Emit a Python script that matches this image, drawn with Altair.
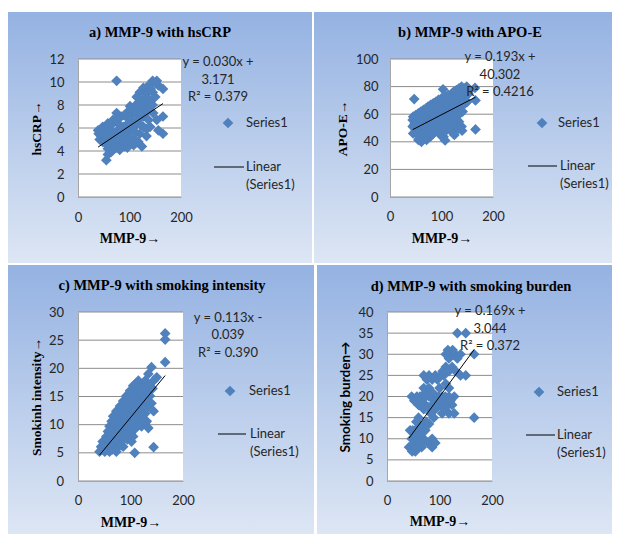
import altair as alt
import pandas as pd

# ---------------- data ----------------
X_TICKS = [0, 100, 200]

# a) MMP-9 vs hsCRP
A_X = [75, 145, 153, 137, 156, 165, 127, 120, 145, 114, 133, 150, 124, 140, 101, 110, 130, 117, 137,
       75, 94, 107, 146, 165, 84, 127, 68, 101, 153, 137, 58, 78, 114, 48, 88, 127, 140, 39, 65, 101,
       156, 40, 55, 81, 120, 165, 45, 71, 94, 133, 42, 61, 88, 110, 52, 78, 101, 124, 61, 91, 68, 81, 58, 55,
       150, 141, 132, 127, 119, 145, 123, 104, 113, 131, 90, 97, 119, 108, 73, 63, 95, 121, 52, 84, 107, 133,
       60, 75, 92, 112, 48, 65, 87, 101, 55, 73, 96, 117, 48, 66, 85, 108, 58, 75, 96, 64]
A_Y = [10.1, 10.1, 10.1, 9.7, 9.7, 9.4, 9.5, 9.1, 9.1, 8.7, 8.7, 8.7, 8.3, 8.3, 7.9, 7.9, 7.9, 7.6, 7.6,
       7.3, 7.3, 7.3, 7.3, 7.0, 7.0, 7.0, 6.7, 6.7, 6.7, 6.7, 6.4, 6.4, 6.4, 6.1, 6.1, 6.1, 6.1, 5.8, 5.8, 5.8,
       5.8, 5.5, 5.5, 5.5, 5.5, 5.5, 5.3, 5.3, 5.3, 5.3, 5.0, 5.0, 5.0, 5.0, 4.7, 4.7, 4.7, 4.4, 4.4, 4.4, 4.1, 4.1, 3.7, 3.2,
       9.9, 9.4, 9.0, 8.5, 8.3, 8.0, 7.7, 7.6, 7.2, 7.3, 7.1, 6.9, 6.8, 6.5, 6.6, 6.2, 6.3, 6.3, 5.9, 5.9, 6.0, 5.9,
       5.7, 5.7, 5.7, 5.6, 5.6, 5.4, 5.4, 5.2, 5.1, 5.0, 4.9, 4.8, 4.8, 4.6, 4.6, 4.5, 4.2, 4.3, 4.3, 3.9]
A_TICKS = [0, 2, 4, 6, 8, 10, 12]
A_COEF = [0.030, 3.171]
A_EQ = ["y = 0.030x +", "3.171", "R² = 0.379"]

# b) MMP-9 vs APO-E
B_X = [47, 103, 165, 166, 166, 107, 125, 140,
       139, 149, 129, 155, 120, 139, 152, 107, 129, 146, 94, 116, 136, 84, 103, 126, 146,
       74, 97, 116, 136, 65, 87, 107, 126, 55, 78, 97, 116, 136, 45, 68, 87, 107, 126,
       44, 58, 78, 97, 116, 48, 68, 87, 107, 129, 44, 61, 81, 100, 120, 139,
       52, 71, 91, 110, 129, 45, 65, 84, 123, 58, 78, 104, 55, 71, 61,
       134, 144, 124, 146, 113, 133, 150, 100, 120, 140, 89, 110, 131, 150, 79, 100, 121, 141,
       70, 92, 111, 131, 60, 82, 102, 121, 141, 50, 73, 92, 112, 131, 48, 63, 83, 102, 121,
       52, 73, 92, 112, 134, 47, 65, 84, 103, 125, 56, 76, 95, 115, 134, 49, 68, 87, 106,
       61, 81, 98, 57, 66]
B_Y = [71, 78, 79, 70, 49, 41, 45, 48,
       80, 80, 77.5, 77.5, 75, 75, 75, 72.7, 72.7, 72.7, 70.3, 70.3, 70.3, 67.9, 67.9, 67.9, 67.9,
       65.5, 65.5, 65.5, 65.5, 63.1, 63.1, 63.1, 63.1, 60.6, 60.6, 60.6, 60.6, 60.6, 58.2, 58.2, 58.2, 58.2, 58.2,
       55.8, 55.8, 55.8, 55.8, 55.8, 53.4, 53.4, 53.4, 53.4, 53.4, 51, 51, 51, 51, 51, 51,
       48.6, 48.6, 48.6, 48.6, 48.6, 46.1, 46.1, 46.1, 46.1, 43.7, 43.7, 43.7, 41.3, 41.3, 40,
       78.7, 78.7, 76.3, 76.3, 74, 74, 74, 71.5, 71.5, 71.5, 69, 69, 69, 69, 66.7, 66.7, 66.7, 66.7,
       64.3, 64.3, 64.3, 64.3, 61.9, 61.9, 61.9, 61.9, 61.9, 59.4, 59.4, 59.4, 59.4, 59.4, 57, 57, 57, 57, 57,
       54.6, 54.6, 54.6, 54.6, 54.6, 52.2, 52.2, 52.2, 52.2, 52.2, 49.8, 49.8, 49.8, 49.8, 49.8, 47.4, 47.4, 47.4, 47.4,
       44.9, 44.9, 44.9, 42.5, 42.5]
B_TICKS = [0, 20, 40, 60, 80, 100]
B_COEF = [0.193, 40.302]
B_EQ = ["y = 0.193x +", "40.302", "R² = 0.4216"]

# c) MMP-9 vs smoking intensity
C_X = [41, 51, 60, 73, 108, 44, 57, 70, 86, 144, 47, 60, 80, 102, 54, 67, 83, 105, 57, 70, 86, 99,
       60, 76, 92, 121, 128, 134, 64, 80, 96, 112, 131, 67, 83, 102, 118, 73, 89, 108, 124, 144,
       80, 96, 115, 134, 86, 102, 121, 92, 105, 124, 137, 99, 112, 128, 105, 121, 137, 115, 128, 144,
       166, 166, 166, 140, 150, 134,
       46, 55, 66, 72, 51, 63, 75, 82, 55, 70, 86, 94, 60, 74, 90, 101, 64, 80, 95, 108,
       68, 86, 101, 115, 72, 89, 106, 122, 78, 95, 112, 128, 84, 101, 118, 90, 108, 125, 140,
       96, 112, 130, 102, 118, 132, 109, 125, 142, 110, 133]
C_Y = [5.2, 5.2, 5.2, 5.2, 5.0, 6.1, 6.1, 6.1, 6.1, 6.0, 7.0, 7.0, 7.0, 7.0, 7.9, 7.9, 7.9, 7.9, 8.8, 8.8, 8.8, 8.8,
       9.7, 9.7, 9.7, 9.7, 10.3, 9.4, 10.6, 10.6, 10.6, 10.6, 10.6, 11.5, 11.5, 11.5, 11.5, 12.4, 12.4, 12.4, 12.4, 12.4,
       13.3, 13.3, 13.3, 13.3, 14.2, 14.2, 14.2, 15.1, 15.1, 15.1, 15.1, 16.0, 16.0, 16.0, 16.9, 16.9, 16.9, 17.8, 17.8, 17.8,
       26.2, 25.1, 21.1, 20.2, 18.4, 19.0,
       5.6, 5.6, 5.6, 5.6, 6.5, 6.5, 6.5, 6.5, 7.4, 7.4, 7.4, 7.4, 8.3, 8.3, 8.3, 8.3, 9.2, 9.2, 9.2, 9.2,
       10.1, 10.1, 10.1, 10.1, 11.0, 11.0, 11.0, 11.0, 12.0, 12.0, 12.0, 12.0, 12.9, 12.9, 12.9, 13.8, 13.8, 13.8, 13.8,
       14.7, 14.7, 14.7, 15.6, 15.6, 15.6, 16.4, 16.4, 16.4, 17.3, 17.3]
C_TICKS = [0, 5, 10, 15, 20, 25, 30]
C_COEF = [0.113, -0.039]
C_EQ = ["y = 0.113x -", "0.039", "R² = 0.390"]

# d) MMP-9 vs smoking burden
D_X = [134, 150, 112, 121, 130, 140, 166, 118, 134, 112, 124, 131, 70, 80, 92, 102, 140, 150,
       86, 112, 70, 80, 47, 57, 67, 80, 92, 105, 118, 128, 60, 73, 86, 102, 115, 124,
       70, 92, 105, 118, 128, 83, 60, 89, 166, 80, 67, 54, 44, 73, 47, 60, 70, 86, 54,
       42, 48, 60, 86, 67, 48, 54,
       63, 74, 98, 111, 52, 64, 90, 108, 121, 78, 96, 112, 76, 96, 108, 125, 116, 118, 106,
       74, 86, 118, 100, 62, 75, 56, 49, 64, 52, 78, 92, 54, 66]
D_Y = [35, 35, 30, 30, 30, 30, 30, 29, 29, 27, 27, 26, 25, 25, 25, 25, 25, 25,
       24, 23, 22, 22, 20, 20, 20, 20, 20, 20, 20, 20, 18, 18, 18, 18, 18, 18,
       17, 17, 16, 16, 16, 16, 15, 15, 15, 13.5, 13, 12, 12, 12, 10, 10, 10, 10, 11,
       8, 8, 8, 8, 9, 7, 7,
       20, 20, 20, 20, 19, 19, 19, 19, 19, 17.5, 17.5, 17.5, 24, 24, 25, 31, 31, 26, 26,
       21, 21, 22, 22, 13, 14, 14, 12, 11, 9, 9, 9, 8, 8]
D_TICKS = [0, 5, 10, 15, 20, 25, 30, 35, 40]
D_COEF = [0.169, 3.044]
D_EQ = ["y = 0.169x +", "3.044", "R² = 0.372"]

TITLES = ["a) MMP-9 with hsCRP", "b) MMP-9 with APO-E",
          "c) MMP-9 with smoking intensity", "d) MMP-9 with smoking burden"]
Y_TITLES = ["hsCRP→", "APO-E→", "Smokinh intensity→", "Smoking burden→"]
X_TITLE = "MMP-9→"
LEGEND_LABELS = ["Series1", ["Linear", "(Series1)"]]

# ---------------- style ----------------
SERIF = "Liberation Serif"
SANS = "Lato"
BLUE = "#4f81bd"
GRIDC = "#8c8c8c"
TXT = "#262626"
DSIZE = 115
GRAD = {"gradient": "linear", "x1": 0, "x2": 0, "y1": 0, "y2": 1,
        "stops": [{"offset": 0, "color": "#94b2e2"}, {"offset": 1, "color": "#dde6f4"}]}
ONE = pd.DataFrame({"k": [0]})


def panel(xs, ys, yticks, coef, eq, title, ytitle, ytfont, L):
    W, H = L["W"], L["H"]
    df = pd.DataFrame({"x": xs, "y": ys})
    xsc = alt.Scale(domain=[0, 200], nice=False, zero=False)
    ysc = alt.Scale(domain=[yticks[0], yticks[-1]], nice=False, zero=False)
    lo, hi = min(xs), max(xs)
    trend = pd.DataFrame({"x": [lo, hi], "y": [coef[0] * lo + coef[1], coef[0] * hi + coef[1]]})
    grid = pd.DataFrame({"y": yticks})

    xaxis = alt.Axis(values=X_TICKS, title=X_TITLE, grid=False, ticks=False, tickSize=0,
                     domain=True, domainColor="#a6a6a6", labelFont=SANS, labelFontSize=13,
                     labelColor=TXT, labelBaseline="middle", labelPadding=L["xlp"], labelFlush=False,
                     labelOverlap=False,
                     titleFont=SERIF, titleFontSize=14, titleFontWeight="bold", titleColor="#000",
                     titleX=W / 2, titleY=L["xty"], titleBaseline="middle", titleAlign="center",
                     zindex=1)
    yaxis = alt.Axis(values=yticks, title=ytitle, grid=False, ticks=False, tickSize=0,
                     domain=True, domainColor="#a6a6a6", labelFont=SANS, labelFontSize=13,
                     labelColor=TXT, labelPadding=L["ylp"], labelOverlap=False, labelFlush=False,
                     titleFont=ytfont, titleFontSize=13.5, titleFontWeight="bold", titleColor="#000",
                     titleX=L["ytx"], titleY=H / 2, titleAngle=270, titleBaseline="middle",
                     titleAlign="center", zindex=1)

    bx0, bx1, by0, by1 = L["bg"]
    bg = alt.Chart(ONE).mark_rect(color=GRAD).encode(
        x=alt.value(bx0), x2=alt.value(bx1), y=alt.value(by0), y2=alt.value(by1))
    plotbg = alt.Chart(ONE).mark_rect(color="white").encode(
        x=alt.value(0), x2=alt.value(W), y=alt.value(0), y2=alt.value(H))
    rules = alt.Chart(grid).mark_rule(color=GRIDC, strokeWidth=1).encode(
        y=alt.Y("y:Q", scale=ysc, axis=yaxis))
    pts = alt.Chart(df).mark_point(shape="diamond", filled=True, size=DSIZE, color=BLUE, opacity=1).encode(
        x=alt.X("x:Q", scale=xsc, axis=xaxis), y=alt.Y("y:Q", scale=ysc, axis=yaxis))
    line = alt.Chart(trend).mark_line(color="black", strokeWidth=1).encode(
        x=alt.X("x:Q", scale=xsc, axis=xaxis), y=alt.Y("y:Q", scale=ysc, axis=yaxis))

    eqt = alt.Chart(ONE).mark_text(text=eq, font=SANS, fontSize=13, align="center", baseline="middle",
                                   lineHeight=17.7, color=TXT).encode(
        x=alt.value(L["eq"][0]), y=alt.value(L["eq"][1]))
    ttl = alt.Chart(ONE).mark_text(text=title, font=SERIF, fontSize=14.5, fontWeight="bold",
                                   align="center", baseline="middle", color="#000").encode(
        x=alt.value(L["title"][0]), y=alt.value(L["title"][1]))

    lg = L["leg"]
    ldia = alt.Chart(ONE).mark_point(shape="diamond", filled=True, size=DSIZE, color=BLUE, opacity=1).encode(
        x=alt.value(lg[0]), y=alt.value(lg[1]))
    lt1 = alt.Chart(ONE).mark_text(text=LEGEND_LABELS[0], font=SANS, fontSize=13, align="left",
                                   baseline="middle", color=TXT).encode(
        x=alt.value(lg[2]), y=alt.value(lg[1]))
    lline = alt.Chart(ONE).mark_rule(color="black", strokeWidth=1).encode(
        x=alt.value(lg[3]), x2=alt.value(lg[4]), y=alt.value(lg[5]))
    lt2 = alt.Chart(ONE).mark_text(text=LEGEND_LABELS[1], font=SANS, fontSize=13, align="left",
                                   baseline="middle", lineHeight=18, color=TXT).encode(
        x=alt.value(lg[6]), y=alt.value(lg[7]))

    return alt.layer(bg, plotbg, rules, pts, line, eqt, ttl, ldia, lt1, lline, lt2).properties(
        width=W, height=H)


LA = dict(W=103, H=138, bg=(-70, 234, -47, 204), title=(82, -26), eq=(140, 3), xlp=20, xty=41,
          ylp=14, ytx=-42, leg=(150, 64, 168, 136, 166, 108, 168, 108))
LB = dict(W=103, H=138, bg=(-76, 222, -47, 204), title=(80, -26), eq=(110, -2), xlp=19, xty=41,
          ylp=12, ytx=-48, leg=(152, 64, 168, 138, 167, 107, 170, 107))
LC = dict(W=105, H=169, bg=(-70, 236, -47, 222), title=(84, -26), eq=(150, 5.5), xlp=19, xty=41,
          ylp=14.5, ytx=-42, leg=(152, 79, 171, 140, 168, 122, 172, 122))
LD = dict(W=105, H=169, bg=(-70, 225, -47, 222), title=(84, -25), eq=(103, -1), xlp=19, xty=40,
          ylp=14, ytx=-42, leg=(152, 80, 170, 139, 168, 123, 170, 123))

pa = panel(A_X, A_Y, A_TICKS, A_COEF, A_EQ, TITLES[0], Y_TITLES[0], SERIF, LA)
pb = panel(B_X, B_Y, B_TICKS, B_COEF, B_EQ, TITLES[1], Y_TITLES[1], SERIF, LB)
pc = panel(C_X, C_Y, C_TICKS, C_COEF, C_EQ, TITLES[2], Y_TITLES[2], SERIF, LC)
pd_ = panel(D_X, D_Y, D_TICKS, D_COEF, D_EQ, TITLES[3], Y_TITLES[3], SANS, LD)

top = alt.hconcat(pa, pb, spacing=2).resolve_scale(x="independent", y="independent")
bottom = alt.hconcat(pc, pd_, spacing=3).resolve_scale(x="independent", y="independent")
chart = alt.vconcat(top, bottom, spacing=2).resolve_scale(x="independent", y="independent").properties(
    padding={"left": 0, "top": 4, "right": 0, "bottom": 0},
    background="white",
).configure_view(stroke=None)

chart.save("out.html", embed_options={"renderer": "svg", "actions": False})
